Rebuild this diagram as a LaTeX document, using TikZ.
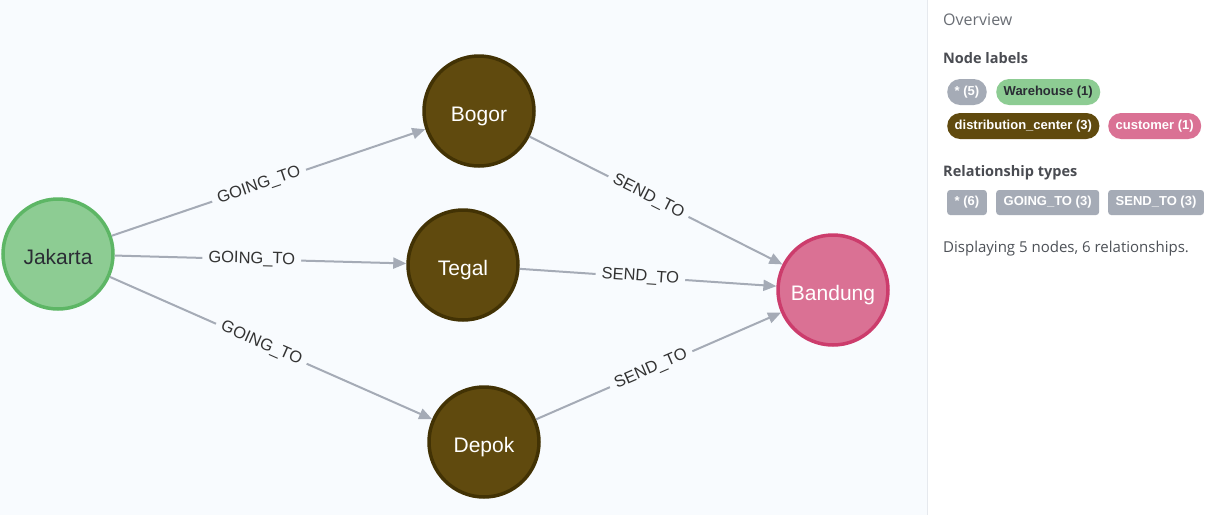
\documentclass[tikz,border=0pt]{standalone}
\usepackage{fontspec}
\setmainfont{Liberation Sans}
\newfontfamily\panelfont{Open Sans}
\usetikzlibrary{arrows.meta}
\definecolor{canvasbg}{HTML}{F8FBFE}
\definecolor{edgecol}{HTML}{A5ABB6}
\definecolor{greenfill}{HTML}{8DCC93}
\definecolor{greenline}{HTML}{5DB665}
\definecolor{brownfill}{HTML}{604A0E}
\definecolor{brownline}{HTML}{423204}
\definecolor{pinkfill}{HTML}{DA7194}
\definecolor{pinkline}{HTML}{CC3C6C}
\definecolor{labtext}{HTML}{333333}
\definecolor{darktext}{HTML}{2A2C34}
\definecolor{paneltext}{HTML}{4D5157}
\definecolor{paneltitle}{HTML}{6A6E75}
\definecolor{sepline}{HTML}{E6E9EE}
\tikzset{
  gnode/.style={circle, minimum size=110pt, inner sep=0pt, line width=3.5pt,
    text height=21pt, text depth=0pt,
    font=\fontsize{21}{24}\selectfont},
  warehouse/.style={gnode, fill=greenfill, draw=greenline, text=darktext},
  dcenter/.style={gnode, fill=brownfill, draw=brownline, text=white},
  customer/.style={gnode, fill=pinkfill, draw=pinkline, text=white},
  rel/.style={draw=edgecol, line width=2pt, -{Triangle[length=13pt,width=11pt]}},
  rellabel/.style={sloped, pos=0.47, fill=canvasbg, inner xsep=6pt, inner ysep=2pt,
    text=labtext, font=\fontsize{16.5}{18}\selectfont},
  pill/.style={anchor=west, rounded corners=13pt, minimum height=26pt, inner xsep=7.5pt,
    inner ysep=0pt, font=\fontsize{13}{15}\bfseries, text=white},
  rpill/.style={anchor=west, rounded corners=3pt, minimum height=25pt, inner xsep=7.5pt,
    inner ysep=0pt, font=\fontsize{13}{15}\bfseries, text=white, fill=edgecol},
  heading/.style={anchor=base west, inner sep=0pt, text=darktext!85,
    font=\panelfont\fontsize{14.5}{17}\bfseries\selectfont},
}
\begin{document}
\begin{tikzpicture}[x=1pt, y=-1pt]
\useasboundingbox (0,0) rectangle (1232,515);
\fill[canvasbg] (0,0) rectangle (927,515);
\fill[white] (927,0) rectangle (1232,515);
\draw[sepline, line width=1pt] (927.5,0) -- (927.5,515);

% graph nodes
\node[warehouse] (jak) at (58,254) {Jakarta};
\node[dcenter] (bog) at (479,111) {Bogor};
\node[dcenter] (teg) at (463,265) {Tegal};
\node[dcenter] (dep) at (484,442) {Depok};
\node[customer] (ban) at (833,290) {Bandung};

% relationships
\draw[rel] (jak) -- node[rellabel] (l1) {GOING\_TO} (bog);
\draw[rel] (jak) -- node[rellabel] (l2) {GOING\_TO} (teg);
\draw[rel] (jak) -- node[rellabel] (l3) {GOING\_TO} (dep);
\draw[rel] (bog) -- node[rellabel] (l4) {SEND\_TO} (ban);
\draw[rel] (teg) -- node[rellabel] (l5) {SEND\_TO} (ban);
\draw[rel] (dep) -- node[rellabel] (l6) {SEND\_TO} (ban);

% overview panel
\node[anchor=base west, inner sep=0pt, text=paneltitle,
  font=\panelfont\fontsize{16}{19}\selectfont] (ov) at (943,25) {Overview};
\node[heading] (nl) at (943,63) {Node labels};
\node[pill, fill=edgecol] (p1) at (947,92) {* (5)};
\node[pill, fill=greenfill, text=darktext] (p2) at (996,92) {Warehouse (1)};
\node[pill, fill=brownfill] (p3) at (947,126) {distribution\_center (3)};
\node[pill, fill=pinkfill] (p4) at (1108,126) {customer (1)};
\node[heading] (rt) at (943,176) {Relationship types};
\node[rpill] (r1) at (947,202.5) {* (6)};
\node[rpill] (r2) at (996,202.5) {GOING\_TO (3)};
\node[rpill] (r3) at (1108,202.5) {SEND\_TO (3)};
\node[anchor=base west, inner sep=0pt, text=paneltext,
  font=\panelfont\fontsize{15}{18}\selectfont] (disp) at (943,252) {Displaying 5 nodes, 6 relationships.};
\end{tikzpicture}
\end{document}
